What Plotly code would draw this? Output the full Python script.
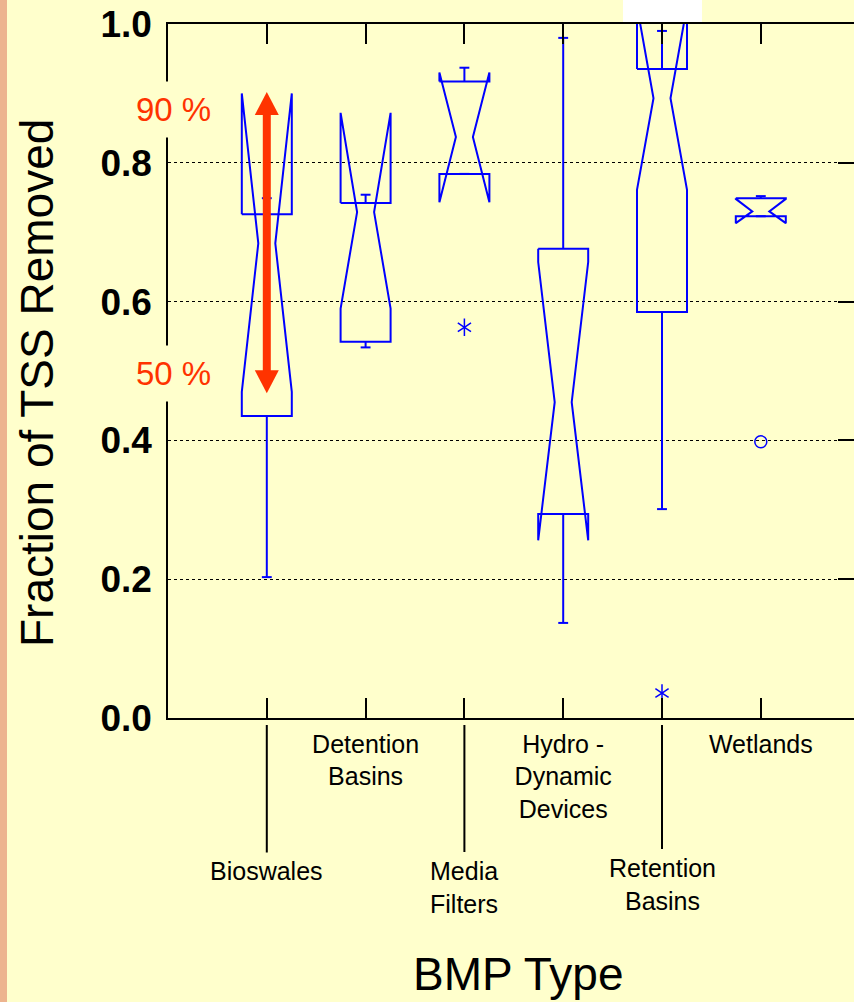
import plotly.graph_objects as go

# ---------------- data ----------------
categories = ["Bioswales", "Detention Basins", "Media Filters",
              "Hydro - Dynamic Devices", "Retention Basins", "Wetlands"]
cat_labels = ["Bioswales", "Detention<br>Basins", "Media<br>Filters",
              "Hydro -<br>Dynamic<br>Devices", "Retention<br>Basins", "Wetlands"]
positions = [1, 2, 3, 4, 5, 6]
medians    = [0.684, 0.729, 0.837, 0.455, 0.893, 0.730]
q1         = [0.435, 0.542, 0.784, 0.294, 0.585, 0.723]
q3         = [0.726, 0.742, 0.917, 0.676, 0.935, 0.749]
notch_lo   = [0.470, 0.590, 0.743, 0.256, 0.761, 0.713]
notch_hi   = [0.900, 0.872, 0.930, 0.657, 1.026, 0.748]
whisker_lo = [0.203, 0.534, 0.784, 0.137, 0.301, 0.723]
whisker_hi = [0.749, 0.754, 0.937, 0.980, 0.990, 0.752]
outside_pos = [3, 5]
outside_val = [0.563, 0.036]
far_pos = [6]
far_val = [0.398]
y_ticks = [0.0, 0.2, 0.4, 0.6, 0.8, 1.0]
arrow_pos = 1
arrow_hi, arrow_lo = 0.902, 0.468
arrow_labels = ["90 %", "50 %"]

# ---------------- style ----------------
BG = "#FFFFCC"
BLUE = "#0000FF"
RED = "#FF3300"
HALF_W = 0.253
INDENT = 0.167
CAP = 0.05
FONT = "Liberation Sans, Arial, sans-serif"

W, H = 854, 1002
ML, MR, MT, MB = 168, 0, 24, 284
PW, PH = W - ML - MR, H - MT - MB
PX_PER_UNIT = 98.8
x_max = PW / PX_PER_UNIT
HEAD_HW = 12 / PX_PER_UNIT      # arrow head half width (x units)
HEAD_LEN = 23 / PH              # arrow head length (y units)


def px_x(px):
    return (px - ML) / PW


def px_y(py):
    return (H - MB - py) / PH


bx, by = [], []
wx, wy = [], []
for p, m, a, b, nl, nh, wl, wh in zip(positions, medians, q1, q3, notch_lo,
                                      notch_hi, whisker_lo, whisker_hi):
    L, R = p - HALF_W, p + HALF_W
    bx += [L, L, L + INDENT, L, L, R, R, R - INDENT, R, R, L, None]
    by += [b, nh, m, nl, a, a, nl, m, nh, b, b, None]
    wx += [p, p, None, p - CAP, p + CAP, None, p, p, None, p - CAP, p + CAP, None]
    wy += [b, wh, None, wh, wh, None, a, wl, None, wl, wl, None]

fig = go.Figure()
fig.add_trace(go.Scatter(x=bx, y=by, mode="lines", line=dict(color=BLUE, width=2),
                         showlegend=False, hoverinfo="skip"))
fig.add_trace(go.Scatter(x=wx, y=wy, mode="lines", line=dict(color=BLUE, width=2),
                         showlegend=False, hoverinfo="skip"))
for sym in ["y-up-open", "y-down-open"]:
    fig.add_trace(go.Scatter(x=outside_pos, y=outside_val, mode="markers",
                             marker=dict(symbol=sym, size=11, color=BLUE,
                                         line=dict(color=BLUE, width=1.5)),
                             showlegend=False, hoverinfo="skip"))
fig.add_trace(go.Scatter(x=far_pos, y=far_val, mode="markers",
                         marker=dict(symbol="circle-open", size=12, color=BLUE,
                                     line=dict(color=BLUE, width=1.5)),
                         showlegend=False, hoverinfo="skip"))
fig.add_trace(go.Scatter(x=[None], y=[None], yaxis="y2", showlegend=False,
                         hoverinfo="skip"))

annotations = []
for lab, yy in zip(arrow_labels, [px_y(110), px_y(373)]):
    annotations.append(dict(x=px_x(173), y=yy, xref="paper", yref="paper",
                            xanchor="center", yanchor="middle",
                            text=lab, showarrow=False, bgcolor=BG, borderpad=9,
                            font=dict(family=FONT, size=33, color=RED)))
# staggered category labels with long leader lines
offsets = {0: 153, 2: 169, 4: 166}
for i, off in offsets.items():
    annotations.append(dict(x=positions[i], y=0, xref="x", yref="y",
                            text=cat_labels[i], showarrow=True, arrowhead=0,
                            arrowwidth=2, arrowcolor="black", ax=0, ay=off,
                            standoff=7, borderpad=4,
                            font=dict(family=FONT, size=25, color="black")))
# axis titles
annotations.append(dict(x=px_x(518), y=px_y(974), xref="paper", yref="paper",
                        xanchor="center", yanchor="middle",
                        text="BMP Type", showarrow=False,
                        font=dict(family=FONT, size=46, color="black")))
annotations.append(dict(x=px_x(37), y=px_y(383), xref="paper", yref="paper",
                        xanchor="center", yanchor="middle",
                        text="Fraction of TSS Removed", textangle=-90, showarrow=False,
                        font=dict(family=FONT, size=46, color="black")))

ticktext = [lab if i % 2 == 1 else "" for i, lab in enumerate(cat_labels)]

# red double-headed arrow (shaft + two heads)
ax_ = arrow_pos
shapes = [
    dict(type="rect", xref="paper", yref="paper", x0=px_x(0), x1=px_x(7),
         y0=px_y(H), y1=px_y(0), fillcolor="#EDB48F", line=dict(width=0),
         layer="below"),
    dict(type="rect", xref="paper", yref="paper", x0=px_x(623), x1=px_x(702),
         y0=px_y(22), y1=px_y(0), fillcolor="white", line=dict(width=0),
         layer="above"),
    dict(type="line", xref="x", yref="y", x0=ax_, x1=ax_,
         y0=arrow_lo + HEAD_LEN * 0.9, y1=arrow_hi - HEAD_LEN * 0.9,
         line=dict(color=RED, width=8), layer="above"),
    dict(type="path", xref="x", yref="y",
         path=f"M{ax_ - HEAD_HW},{arrow_hi - HEAD_LEN} L{ax_},{arrow_hi} "
              f"L{ax_ + HEAD_HW},{arrow_hi - HEAD_LEN} Z",
         fillcolor=RED, line=dict(width=0), layer="above"),
    dict(type="path", xref="x", yref="y",
         path=f"M{ax_ - HEAD_HW},{arrow_lo + HEAD_LEN} L{ax_},{arrow_lo} "
              f"L{ax_ + HEAD_HW},{arrow_lo + HEAD_LEN} Z",
         fillcolor=RED, line=dict(width=0), layer="above"),
]

fig.update_layout(
    width=W, height=H,
    margin=dict(l=ML, r=MR, t=MT, b=MB, pad=0),
    paper_bgcolor=BG, plot_bgcolor=BG,
    showlegend=False,
    annotations=annotations,
    shapes=shapes,
    xaxis=dict(range=[0, x_max], tickvals=positions, ticktext=ticktext,
               ticks="inside", ticklen=20, tickwidth=1.5, tickcolor="black",
               showline=True, linecolor="black", linewidth=1.5, mirror="ticks",
               showgrid=False, zeroline=False, ticklabelstandoff=3,
               tickfont=dict(family=FONT, size=25, color="black")),
    yaxis=dict(range=[0, 1], tickvals=y_ticks, tickformat=".1f",
               showgrid=True, gridcolor="black", griddash="dot", gridwidth=1,
               showline=True, linecolor="black", linewidth=1.5, ticks="",
               zeroline=False, ticklabelstandoff=7,
               tickfont=dict(family=FONT, size=37, color="black", weight="bold")),
    yaxis2=dict(range=[0, 1], overlaying="y", side="right", tickvals=y_ticks,
                ticks="inside", ticklen=16, tickwidth=1.5, tickcolor="black",
                showticklabels=False, showline=False, showgrid=False, zeroline=False),
)

fig.write_html("out.html", config={"displayModeBar": False},
               post_script="document.body.style.margin='0';")
